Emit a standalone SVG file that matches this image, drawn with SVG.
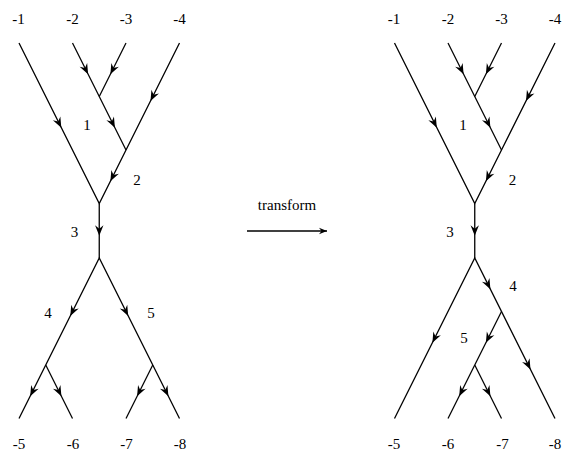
<svg xmlns="http://www.w3.org/2000/svg" width="563" height="456" viewBox="0 0 563 456">
<style>
.e{stroke:#000;stroke-width:1.3;fill:none;stroke-linecap:butt}
text{font-family:"Liberation Serif","DejaVu Serif",serif;font-size:15px;fill:#000;text-anchor:middle}
</style>
<defs>
<path id="ah" d="M0,0 L-10.5,-4.2 L-7,0 L-10.5,4.2 Z" fill="#000"/>
<marker id="tip" markerWidth="10" markerHeight="8" refX="8" refY="4" orient="auto" markerUnits="userSpaceOnUse">
<path d="M8,4 L0,0.8 L2.5,4 L0,7.2 Z" fill="#000"/>
</marker>
</defs>
<rect width="563" height="456" fill="#fff"/>

<g id="connectors">
<g class="e">
<path d="M19,43 L99.25,203.5 L126,150 L179.5,43"/>
<path d="M72.5,43 L126,150"/>
<path d="M126,43 L99.25,96.5"/>
<path d="M99.25,203.5 L99.25,258"/>
<path d="M19,418.5 L99.25,258 L179.5,418.5"/>
<path d="M45.75,365 L72.5,418.5"/>
<path d="M152.75,365 L126,418.5"/>
<path d="M394.5,43 L474.75,203.5 L501.5,150 L555,43"/>
<path d="M448,43 L501.5,150"/>
<path d="M501.5,43 L474.75,96.5"/>
<path d="M474.75,203.5 L474.75,258"/>
<path d="M394.5,418.5 L474.75,258 L555,418.5"/>
<path d="M501.5,311.5 L448,418.5"/>
<path d="M474.75,365 L501.5,418.5"/>
<path d="M247,231 L327,231" marker-end="url(#tip)"/>
</g>
<use href="#ah" transform="translate(61.3,127.7) rotate(63.43)"/>
<use href="#ah" transform="translate(88.1,74.2) rotate(63.43)"/>
<use href="#ah" transform="translate(110.4,74.2) rotate(116.57)"/>
<use href="#ah" transform="translate(150.5,101) rotate(116.57)"/>
<use href="#ah" transform="translate(114.9,127.7) rotate(63.43)"/>
<use href="#ah" transform="translate(110.4,181.2) rotate(116.57)"/>
<use href="#ah" transform="translate(99.25,235.75) rotate(90)"/>
<use href="#ah" transform="translate(70.3,316) rotate(116.57)"/>
<use href="#ah" transform="translate(128.2,316) rotate(63.43)"/>
<use href="#ah" transform="translate(30.2,396.2) rotate(116.57)"/>
<use href="#ah" transform="translate(61.4,396.2) rotate(63.43)"/>
<use href="#ah" transform="translate(137.1,396.2) rotate(116.57)"/>
<use href="#ah" transform="translate(168.4,396.2) rotate(63.43)"/>
<use href="#ah" transform="translate(436.8,127.7) rotate(63.43)"/>
<use href="#ah" transform="translate(463.6,74.2) rotate(63.43)"/>
<use href="#ah" transform="translate(485.9,74.2) rotate(116.57)"/>
<use href="#ah" transform="translate(526,101) rotate(116.57)"/>
<use href="#ah" transform="translate(490.4,127.7) rotate(63.43)"/>
<use href="#ah" transform="translate(485.9,181.2) rotate(116.57)"/>
<use href="#ah" transform="translate(474.75,235.75) rotate(90)"/>
<use href="#ah" transform="translate(432.4,342.7) rotate(116.57)"/>
<use href="#ah" transform="translate(490.4,289.2) rotate(63.43)"/>
<use href="#ah" transform="translate(530.5,369.5) rotate(63.43)"/>
<use href="#ah" transform="translate(485.9,342.7) rotate(116.57)"/>
<use href="#ah" transform="translate(459.2,396.2) rotate(116.57)"/>
<use href="#ah" transform="translate(490.4,396.2) rotate(63.43)"/>
</g>

<g id="left-diagram">
<g id="L-n-1"><text x="18.5" y="24">-1</text></g>
<g id="L-n-2"><text x="72.5" y="24">-2</text></g>
<g id="L-n-3"><text x="126" y="24">-3</text></g>
<g id="L-n-4"><text x="179.5" y="24">-4</text></g>
<g id="L-n-5"><text x="19" y="449">-5</text></g>
<g id="L-n-6"><text x="73" y="449">-6</text></g>
<g id="L-n-7"><text x="126.5" y="449">-7</text></g>
<g id="L-n-8"><text x="180" y="449">-8</text></g>
<g id="L-e1"><text x="87" y="130">1</text></g>
<g id="L-e2"><text x="137" y="184.5">2</text></g>
<g id="L-e3"><text x="74.5" y="237">3</text></g>
<g id="L-e4"><text x="48" y="318">4</text></g>
<g id="L-e5"><text x="151" y="318">5</text></g>
</g>

<g id="right-diagram">
<g id="R-n-1"><text x="394" y="24">-1</text></g>
<g id="R-n-2"><text x="448" y="24">-2</text></g>
<g id="R-n-3"><text x="501.5" y="24">-3</text></g>
<g id="R-n-4"><text x="555" y="24">-4</text></g>
<g id="R-n-5"><text x="394" y="449">-5</text></g>
<g id="R-n-6"><text x="448" y="449">-6</text></g>
<g id="R-n-7"><text x="502.5" y="449">-7</text></g>
<g id="R-n-8"><text x="555" y="449">-8</text></g>
<g id="R-e1"><text x="463" y="130">1</text></g>
<g id="R-e2"><text x="512.5" y="184.5">2</text></g>
<g id="R-e3"><text x="450" y="237">3</text></g>
<g id="R-e4"><text x="513" y="291">4</text></g>
<g id="R-e5"><text x="464" y="343">5</text></g>
</g>

<g id="transform-label"><text x="287" y="210">transform</text></g>
</svg>
